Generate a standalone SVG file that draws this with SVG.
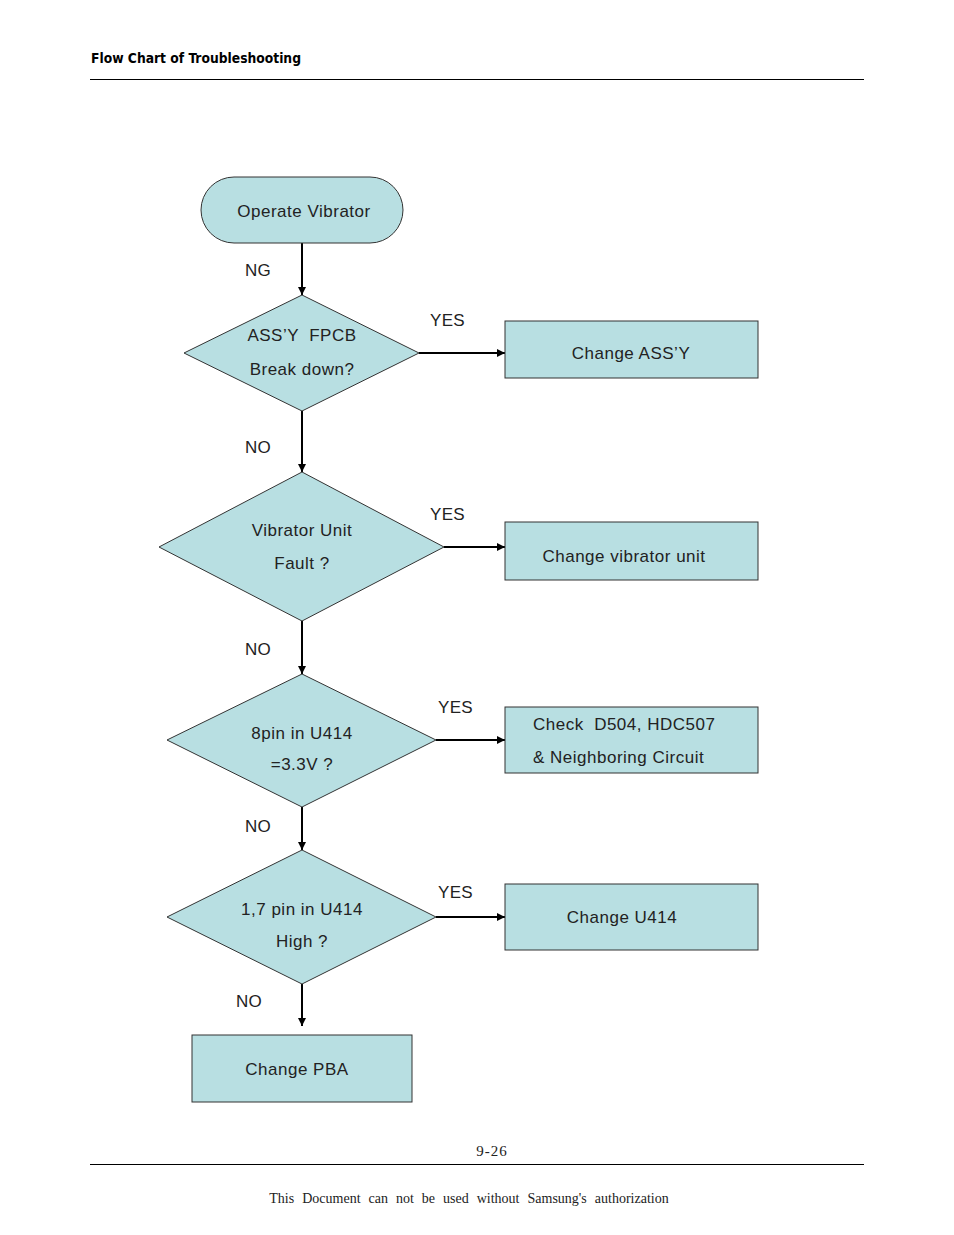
<svg xmlns="http://www.w3.org/2000/svg" width="954" height="1235" viewBox="0 0 954 1235">
<defs>
<marker id="ah" viewBox="0 0 10 10" refX="10" refY="5" markerWidth="9" markerHeight="8" markerUnits="userSpaceOnUse" orient="auto">
<path d="M0,0 L10,5 L0,10 z" fill="#000"/>
</marker>
<style>
.n{fill:#b8dfe2;stroke:#333;stroke-width:1}
.t{font-family:"Liberation Sans",Arial,sans-serif;font-size:17px;letter-spacing:0.5px;fill:#222;white-space:pre}
.c{text-anchor:middle}
.e{stroke:#000;stroke-width:2;fill:none;marker-end:url(#ah)}
.lab{font-family:"Liberation Sans",Arial,sans-serif;font-size:17px;letter-spacing:0.3px;fill:#222}
</style>
</defs>
<rect width="954" height="1235" fill="#fff"/>
<text x="91" y="63" font-family="'DejaVu Sans Condensed','Liberation Sans Narrow',sans-serif" font-weight="bold" font-size="14" fill="#000" textLength="210" lengthAdjust="spacingAndGlyphs">Flow Chart of Troubleshooting</text>
<line x1="90" y1="79.5" x2="864" y2="79.5" stroke="#000" stroke-width="1"/>

<g id="connectors">
<line class="e" x1="302" y1="243" x2="302" y2="295"/>
<line class="e" x1="419" y1="353" x2="505" y2="353"/>
<line class="e" x1="302" y1="411" x2="302" y2="472"/>
<line class="e" x1="444" y1="547" x2="505" y2="547"/>
<line class="e" x1="302" y1="621" x2="302" y2="674"/>
<line class="e" x1="436" y1="740" x2="505" y2="740"/>
<line class="e" x1="302" y1="807" x2="302" y2="850"/>
<line class="e" x1="436" y1="917" x2="505" y2="917"/>
<line class="e" x1="302" y1="984" x2="302" y2="1026"/>
<text class="lab" x="245" y="276">NG</text>
<text class="lab" x="430" y="326">YES</text>
<text class="lab" x="245" y="453">NO</text>
<text class="lab" x="430" y="520">YES</text>
<text class="lab" x="245" y="655">NO</text>
<text class="lab" x="438" y="713">YES</text>
<text class="lab" x="245" y="832">NO</text>
<text class="lab" x="438" y="898">YES</text>
<text class="lab" x="236" y="1007">NO</text>
</g>

<g id="start">
<rect class="n" x="201" y="177" width="202" height="66" rx="33" ry="33"/>
<text class="t c" x="304" y="217">Operate Vibrator</text>
</g>
<g id="d1">
<polygon class="n" points="302,295 419,353 302,411 184,353"/>
<text class="t c" x="302" y="341" xml:space="preserve">ASS’Y  FPCB</text>
<text class="t c" x="302" y="375">Break down?</text>
</g>
<g id="b1">
<rect class="n" x="505" y="321" width="253" height="57"/>
<text class="t c" x="631" y="359">Change ASS’Y</text>
</g>
<g id="d2">
<polygon class="n" points="302,472 444,547 302,621 159,547"/>
<text class="t c" x="302" y="536">Vibrator Unit</text>
<text class="t c" x="302" y="569">Fault ?</text>
</g>
<g id="b2">
<rect class="n" x="505" y="522" width="253" height="58"/>
<text class="t c" x="624" y="562">Change vibrator unit</text>
</g>
<g id="d3">
<polygon class="n" points="302,674 436,740 302,807 167,740"/>
<text class="t c" x="302" y="739">8pin in U414</text>
<text class="t c" x="302" y="770">=3.3V ?</text>
</g>
<g id="b3">
<rect class="n" x="505" y="707" width="253" height="66"/>
<text class="t" x="533" y="730" xml:space="preserve">Check  D504, HDC507</text>
<text class="t" x="533" y="763">&amp; Neighboring Circuit</text>
</g>
<g id="d4">
<polygon class="n" points="302,850 436,917 302,984 167,917"/>
<text class="t c" x="302" y="915">1,7 pin in U414</text>
<text class="t c" x="302" y="947">High ?</text>
</g>
<g id="b4">
<rect class="n" x="505" y="884" width="253" height="66"/>
<text class="t c" x="622" y="923">Change U414</text>
</g>
<g id="b5">
<rect class="n" x="192" y="1035" width="220" height="67"/>
<text class="t c" x="297" y="1075">Change PBA</text>
</g>

<text x="492" y="1156" text-anchor="middle" font-family="'Liberation Serif','Times New Roman',serif" font-size="15" letter-spacing="1" fill="#222">9-26</text>
<line x1="90" y1="1164.5" x2="864" y2="1164.5" stroke="#000" stroke-width="1"/>
<text x="469" y="1203" text-anchor="middle" font-family="'Liberation Serif','Times New Roman',serif" font-size="14" word-spacing="4.5" fill="#222">This Document can not be used without Samsung's authorization</text>
</svg>
